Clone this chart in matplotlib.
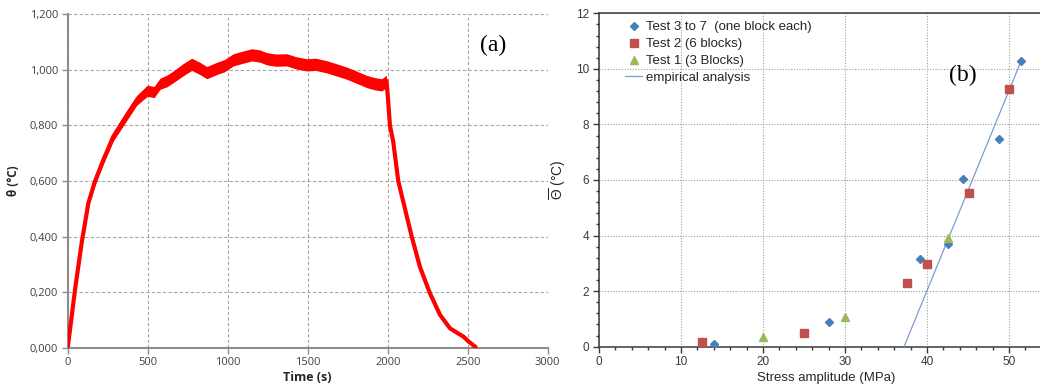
import matplotlib
matplotlib.use("Agg")
import matplotlib.pyplot as plt
from matplotlib.ticker import MultipleLocator, FuncFormatter
import numpy as np

# ---------------- data: panel (a) ----------------
time_s = [0, 20, 46, 87, 129, 171, 223, 285, 358, 431, 498, 540, 577, 620, 660,
          720, 775, 827, 869, 931, 980, 1035, 1090, 1150, 1200, 1244, 1300, 1369,
          1430, 1494, 1550, 1619, 1680, 1744, 1800, 1869, 1920, 1963, 1983, 1992,
          2000, 2014, 2035, 2066, 2108, 2150, 2202, 2264, 2327, 2389, 2430, 2473,
          2510, 2555]
theta_c = [0.0, 0.09, 0.21, 0.376, 0.52, 0.60, 0.676, 0.76, 0.826, 0.89, 0.925,
           0.92, 0.95, 0.96, 0.975, 1.0, 1.02, 1.005, 0.99, 1.005, 1.015, 1.036,
           1.045, 1.054, 1.05, 1.04, 1.035, 1.036, 1.025, 1.018, 1.02, 1.011, 1.0,
           0.988, 0.975, 0.958, 0.95, 0.946, 0.955, 0.96, 0.91, 0.80, 0.74, 0.60,
           0.50, 0.40, 0.29, 0.196, 0.118, 0.07, 0.055, 0.04, 0.02, 0.0]
band_c = [0.004, 0.006, 0.008, 0.01, 0.012, 0.014, 0.015, 0.016, 0.018, 0.018,
          0.02, 0.02, 0.02, 0.021, 0.021, 0.022, 0.022, 0.022, 0.022, 0.022, 0.022,
          0.022, 0.022, 0.022, 0.022, 0.022, 0.022, 0.022, 0.022, 0.022, 0.022,
          0.022, 0.022, 0.022, 0.022, 0.022, 0.022, 0.022, 0.022, 0.02, 0.004,
          0.004, 0.004, 0.004, 0.004, 0.004, 0.004, 0.004, 0.005, 0.006, 0.006,
          0.005, 0.004, 0.003]
xticks_a = [0, 500, 1000, 1500, 2000, 2500, 3000]
yticks_a = [0.0, 0.2, 0.4, 0.6, 0.8, 1.0, 1.2]

# ---------------- data: panel (b) ----------------
test37_x = [14.0, 28.0, 39.1, 42.6, 44.4, 48.8, 51.5]
test37_y = [0.09, 0.90, 3.16, 3.70, 6.05, 7.49, 10.28]
test2_x = [12.5, 25.0, 37.5, 40.0, 45.1, 50.0]
test2_y = [0.18, 0.48, 2.30, 2.97, 5.53, 9.27]
test1_x = [20.0, 30.0, 42.6]
test1_y = [0.34, 1.08, 3.91]
emp_x = [37.2, 51.5]
emp_y = [0.0, 10.3]
xticks_b = [0, 10, 20, 30, 40, 50]
yticks_b = [0, 2, 4, 6, 8, 10, 12]

W, H = 1040, 387
fig = plt.figure(figsize=(W / 100, H / 100), dpi=100)

# ================= panel (a) =================
ax1 = fig.add_axes([67.7 / W, 1 - 347.7 / H, 480 / W, 333.4 / H])
t = np.array(time_s)
c = np.array(theta_c)
b = np.array(band_c)
ax1.fill_between(t, c - b, c + b, color="#FF0000", lw=0, zorder=3)
ax1.plot(t, c, color="#FF0000", lw=3.0, zorder=3, solid_capstyle="butt")
ax1.set_xlim(0, 3000)
ax1.set_ylim(0, 1.2)
ax1.set_xticks(xticks_a)
ax1.set_yticks(yticks_a)
ax1.yaxis.set_major_formatter(FuncFormatter(lambda v, p: f"{v:.3f}".replace(".", ",")))
ax1.grid(True, color="#A6A6A6", linestyle=(0, (3, 2)), lw=0.8, zorder=0)
for s in ["top", "right"]:
    ax1.spines[s].set_visible(False)
for s in ["left", "bottom"]:
    ax1.spines[s].set_color("#8C8C8C")
    ax1.spines[s].set_linewidth(1.5)
ax1.tick_params(axis="both", colors="#8C8C8C", labelcolor="#404040", length=4,
                width=1, labelsize=8, pad=3)
for lab in ax1.get_xticklabels() + ax1.get_yticklabels():
    lab.set_family("Open Sans")
ax1.set_xlabel("Time (s)", fontsize=9, fontweight="bold", family="Open Sans",
               color="#262626", labelpad=2)
ax1.set_ylabel("θ (°C)", fontsize=8.5, fontweight="bold", family="Open Sans",
               color="#262626", labelpad=7)
fig.text(493 / W, 1 - 45 / H, "(a)", ha="center", va="center", fontsize=17,
         family="Liberation Serif")

# ================= panel (b) =================
plt.rcParams["mathtext.fontset"] = "custom"
plt.rcParams["mathtext.rm"] = "Liberation Sans"
plt.rcParams["mathtext.it"] = "Liberation Sans"
ax2 = fig.add_axes([599 / W, 1 - 346.7 / H, 441 / W + 0.01, 333.4 / H])
xmax = (W + 10.4 - 599) / 8.2
ax2.set_xlim(0, xmax)
ax2.set_ylim(0, 12)
ax2.set_xticks(xticks_b)
ax2.set_yticks(yticks_b)
ax2.xaxis.set_minor_locator(MultipleLocator(2))
ax2.yaxis.set_minor_locator(MultipleLocator(0.4))
ax2.grid(True, which="major", color="#A0A0A0", linestyle=(0, (1, 1.5)), lw=0.8, zorder=0)
ax2.spines["right"].set_visible(False)
for s in ["left", "bottom", "top"]:
    ax2.spines[s].set_color("#3A3A3A")
    ax2.spines[s].set_linewidth(1.1)
ax2.tick_params(axis="both", which="major", colors="#3A3A3A", labelcolor="#3A3A3A",
                length=4, width=1, labelsize=8.5, direction="out", pad=3)
ax2.tick_params(axis="both", which="minor", colors="#3A3A3A", length=2.5, width=1,
                direction="out")
for lab in ax2.get_xticklabels() + ax2.get_yticklabels():
    lab.set_family("Liberation Sans")

ax2.plot(emp_x, emp_y, color="#7C9CD0", lw=0.9, zorder=3, label="empirical analysis")
h1, = ax2.plot(test37_x, test37_y, ls="none", marker="D", ms=4.2, color="#4A7EBB",
               zorder=4, label="Test 3 to 7  (one block each)")
h2, = ax2.plot(test2_x, test2_y, ls="none", marker="s", ms=5.8, color="#C0504D",
               zorder=4, label="Test 2 (6 blocks)")
h3, = ax2.plot(test1_x, test1_y, ls="none", marker="^", ms=5.5, color="#9BBB59",
               zorder=4, label="Test 1 (3 Blocks)")
h4 = ax2.get_lines()[0]
leg = ax2.legend(handles=[h1, h2, h3, h4], loc="upper left",
                 bbox_to_anchor=(0.04, 1.0), frameon=False,
                 handlelength=1.3, handletextpad=0.3, labelspacing=0.35,
                 borderaxespad=0.2, prop={"family": "Liberation Sans", "size": 9.5})
for txt in leg.get_texts():
    txt.set_color("#262626")

ax2.set_xlabel("Stress amplitude (MPa)", fontsize=9.5, family="Liberation Sans",
               color="#262626", labelpad=4)
ax2.xaxis.set_label_coords((826 - 599) / (W + 10.4 - 599), -0.075)
ax2.set_ylabel(r"$\overline{\Theta}$ (°C)", fontsize=10, family="Liberation Sans",
               color="#262626", labelpad=6)
fig.text(963 / W, 1 - 75 / H, "(b)", ha="center", va="center", fontsize=17,
         family="Liberation Serif")

fig.savefig("out.png", dpi=100)
